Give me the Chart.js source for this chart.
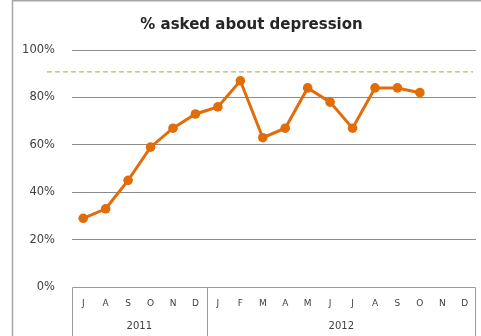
<!DOCTYPE html>
<html>
<head>
<meta charset="utf-8">
<script src="https://cdn.jsdelivr.net/npm/chart.js@4"></script>
<style>
  html, body { margin: 0; padding: 0; background: #fff; }
  #wrap { position: relative; width: 481px; height: 336px; }
</style>
</head>
<body>
<div id="wrap"><canvas id="c" width="481" height="336"></canvas></div>
<script>
// Monthly categories, grouped under their year
const months = ['J','A','S','O','N','D','J','F','M','A','M','J','J','A','S','O','N','D'];
const years = ['2011', '2012'];
const monthsPerYear = [6, 12];

// % of patients asked about depression, per month
const asked = [29, 33, 45, 59, 67, 73, 76, 87, 63, 67, 84, 78, 67, 84, 84, 82, null, null];

// Target level (dashed line)
const target = [91];

const chartTitle = '% asked about depression';

const FONT = '"DejaVu Sans", sans-serif';
const TEXT = '#404040';
const BOX = '#9a9a9a';

const decorations = {
  id: 'decorations',
  beforeDraw(chart) {
    const ctx = chart.ctx;
    ctx.save();
    ctx.fillStyle = '#fff';
    ctx.fillRect(0, 0, chart.width, chart.height);
    // outer frame (left and top edges)
    ctx.strokeStyle = '#a6a6a6';
    ctx.lineWidth = 1.5;
    ctx.beginPath();
    ctx.moveTo(12.5, chart.height);
    ctx.lineTo(12.5, 0.75);
    ctx.lineTo(chart.width, 0.75);
    ctx.stroke();
    // title
    ctx.fillStyle = '#262626';
    ctx.font = 'bold 15px ' + FONT;
    ctx.textAlign = 'center';
    ctx.textBaseline = 'middle';
    ctx.fillText(chartTitle, 251.5, 25);
    ctx.restore();
  },
  beforeDatasetsDraw(chart) {
    const ctx = chart.ctx;
    const area = chart.chartArea;
    const y = chart.scales.y.getPixelForValue(target[0]);
    ctx.save();
    ctx.strokeStyle = '#a8c35a';
    ctx.lineWidth = 1.3;
    ctx.setLineDash([5, 3]);
    ctx.beginPath();
    ctx.moveTo(area.left - 25, y + 0.5);
    ctx.lineTo(area.right - 3, y + 0.5);
    ctx.stroke();
    ctx.restore();
  },
  afterDraw(chart) {
    const ctx = chart.ctx;
    const area = chart.chartArea;
    const x = chart.scales.x;
    const bottom = chart.height;
    ctx.save();
    ctx.strokeStyle = BOX;
    ctx.lineWidth = 1;
    ctx.beginPath();
    ctx.moveTo(area.left + 0.5, bottom);
    ctx.lineTo(area.left + 0.5, area.bottom + 0.5);
    ctx.lineTo(area.right - 0.5, area.bottom + 0.5);
    ctx.lineTo(area.right - 0.5, bottom);
    let start = 0;
    const spans = [];
    monthsPerYear.forEach((n, i) => {
      const end = start + n - 1;
      const x0 = start === 0 ? area.left : (x.getPixelForValue(start - 1) + x.getPixelForValue(start)) / 2;
      const x1 = end === months.length - 1 ? area.right : (x.getPixelForValue(end) + x.getPixelForValue(end + 1)) / 2;
      spans.push([x0, x1]);
      if (i > 0) {
        ctx.moveTo(Math.round(x0) + 0.5, area.bottom);
        ctx.lineTo(Math.round(x0) + 0.5, bottom);
      }
      start += n;
    });
    ctx.stroke();
    ctx.fillStyle = TEXT;
    ctx.font = '10px ' + FONT;
    ctx.textAlign = 'center';
    ctx.textBaseline = 'middle';
    years.forEach((yr, i) => {
      ctx.fillText(yr, (spans[i][0] + spans[i][1]) / 2, 326);
    });
    ctx.restore();
  }
};

new Chart(document.getElementById('c'), {
  type: 'line',
  data: {
    labels: months,
    datasets: [{
      data: asked,
      borderColor: '#e36c0a',
      backgroundColor: '#e36c0a',
      borderWidth: 3,
      pointRadius: 4.8,
      pointBorderWidth: 0,
      pointBackgroundColor: '#e36c0a',
      tension: 0,
      spanGaps: false
    }]
  },
  options: {
    responsive: false,
    devicePixelRatio: 1,
    animation: false,
    layout: { padding: { top: 50, right: 5, left: 0, bottom: 0 } },
    plugins: {
      legend: { display: false },
      title: { display: false },
      tooltip: { enabled: false }
    },
    scales: {
      x: {
        offset: true,
        grid: { display: false },
        border: { display: false },
        ticks: {
          color: TEXT,
          font: { family: FONT, size: 9 },
          padding: 3,
          maxRotation: 0,
          autoSkip: false
        },
        afterFit(scale) { scale.height = 49; }
      },
      y: {
        min: 0,
        max: 100,
        grid: {
          drawTicks: false,
          color: (c) => c.tick && c.tick.value === 0 ? 'rgba(0,0,0,0)' : '#8c8c8c',
          lineWidth: 1
        },
        border: { display: false },
        ticks: {
          stepSize: 20,
          padding: 17,
          color: TEXT,
          font: { family: FONT, size: 11.5 },
          callback: (v) => v + '%'
        },
        afterFit(scale) { scale.width = 72; }
      }
    }
  },
  plugins: [decorations]
});
</script>
</body>
</html>
